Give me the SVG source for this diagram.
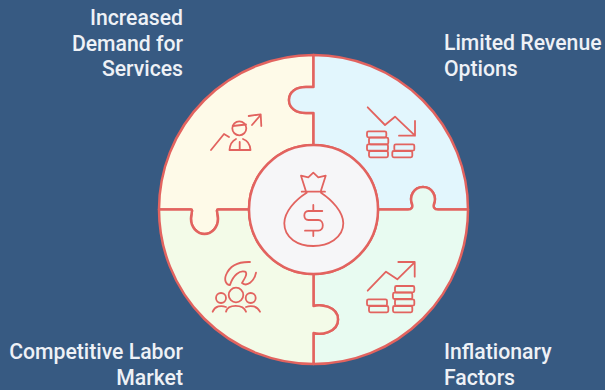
<svg xmlns="http://www.w3.org/2000/svg" width="605" height="390" viewBox="0 0 605 390">
<style>
.q{stroke:#e2635f;stroke-width:2.500;stroke-linejoin:round;stroke-linecap:round}
.i{fill:none;stroke:#e2635f;stroke-width:1.800;stroke-linejoin:round;stroke-linecap:round}
text{font-family:Roboto,"Liberation Sans",sans-serif;font-size:21.200px;font-weight:500;fill:#eef1f6}
.r{text-anchor:end}
</style>
<rect width="605" height="390" fill="#375a82"/>
<g id="node-demand">
<path class="q" fill="#fefae8" d="M159 209.500A154.500 154.500 0 0 1 313.500 55V87H306C296 87 289 92 289 100C289 108 296 113 306 113H313.500V145A64.500 64.500 0 0 0 249 209.500H218C216 209.500 217.500 212 218 218C218.500 227 212 234 204.500 234C197 234 190.500 227 191 218C191.500 212 193 209.500 191 209.500Z"/>
<g class="i"><path d="M211 150L224 134L229 137M252 125L260.700 115M248.700 116L260.700 114.300L261.300 126"/><circle cx="239.300" cy="128.300" r="7"/><path d="M232.700 126L246 124.500M229.500 150H250.500M229.500 150C230 143 234 140 236 139M250.500 150C250 143 246 140 243 139M239.700 142V149"/></g>
<text class="r" x="183" y="24.700">Increased</text><text class="r" x="183" y="50.700">Demand for</text><text class="r" x="183" y="75.700">Services</text>
</g>
<g id="node-revenue">
<path class="q" fill="#e2f6fd" d="M313.500 55A154.500 154.500 0 0 1 468 209.500H438C434 209.500 433 207 434 204C437 196 432 187 423 187C414 187 409 196 412 204C413 207 412 209.500 408 209.500H378A64.500 64.500 0 0 0 313.500 145V113H306C296 113 289 108 289 100C289 92 296 87 306 87H313.500Z"/>
<g class="i"><path d="M367.700 107.300L385 125L395 116.700L415 135.700M399 135.700H415V121"/><rect x="367" y="131.300" width="19.300" height="6" rx="1.500"/><rect x="369" y="137.700" width="19.300" height="6.600" rx="1.500"/><rect x="367" y="144.300" width="21" height="6.400" rx="1.500"/><rect x="369" y="151" width="19" height="6.300" rx="1.500"/><rect x="394.300" y="144.300" width="20" height="6.400" rx="1.500"/><rect x="392.300" y="151" width="20" height="6.300" rx="1.500"/></g>
<text x="444" y="49.700">Limited Revenue</text><text x="444" y="75.700">Options</text>
</g>
<g id="node-inflation">
<path class="q" fill="#e8fbf1" d="M468 209.500A154.500 154.500 0 0 1 313.500 364V333C320 335 338 333 338 319.500C338 306 320 304 313.500 306V274A64.500 64.500 0 0 0 378 209.500H408C412 209.500 413 207 412 204C409 196 414 187 423 187C432 187 437 196 434 204C433 207 434 209.500 438 209.500Z"/>
<g class="i"><path d="M367.700 290.700L386 271.700L397.300 279.300L414.300 262.700M398.300 262H414.700V276.700"/><rect x="367" y="299.300" width="20" height="6.400" rx="1.500"/><rect x="369" y="306" width="19.300" height="6.300" rx="1.500"/><rect x="395" y="286" width="19.300" height="6.300" rx="1.500"/><rect x="393" y="292.700" width="19.300" height="6.300" rx="1.500"/><rect x="395" y="299.300" width="19.300" height="6.400" rx="1.500"/><rect x="393" y="306" width="19.300" height="6.300" rx="1.500"/></g>
<text x="444" y="358.700">Inflationary</text><text x="444" y="384.700">Factors</text>
</g>
<g id="node-labor">
<path class="q" fill="#f3fbe8" d="M313.500 364A154.500 154.500 0 0 1 159 209.500H191C193 209.500 191.500 212 191 218C190.500 227 197 234 204.500 234C212 234 218.500 227 218 218C217.500 212 216 209.500 218 209.500H249A64.500 64.500 0 0 0 313.500 274V306C320 304 338 306 338 319.500C338 333 320 335 313.500 333Z"/>
<g class="i"><path d="M250 262C240 261.700 230 265 226 275C224 280 226 285 230 285C233 275 240 270 245 271.700C248 273 245 278 242 283C247 287 254 282 256 272.700"/><circle cx="236" cy="295" r="7.300"/><circle cx="221" cy="298" r="5"/><circle cx="250.700" cy="298" r="5"/><path d="M226 311.700C228 304 243 304 246 311.700M212.700 311.700C215 306 221 305 226 307M260 311.700C257 306 251 305 246 307"/></g>
<text class="r" x="183" y="358.700">Competitive Labor</text><text class="r" x="183" y="384.700">Market</text>
</g>
<g id="node-center">
<circle cx="313.500" cy="209.500" r="64.500" fill="#f6f6f8" stroke="#e2635f" stroke-width="2.500"/>
<g class="i"><path d="M305.700 190.500L301 175.700L308.300 177.300L313.300 172.700L318.300 177.300L325.700 175.700L321 190.500M301.700 191.700H325M306.700 192.700C295 200 284.300 212 284.300 223.300C284.300 238 298 246 313.300 246C328 246 343.300 238 343.300 223.300C343.300 212 332 200 321 192.700M313.300 205V211M313.300 230.700V236M322.300 211H308.300C303 211 303 220 308.300 220H318.300C324.300 220 324.300 230.700 318.300 230.700H305"/></g>
</g>
</svg>
